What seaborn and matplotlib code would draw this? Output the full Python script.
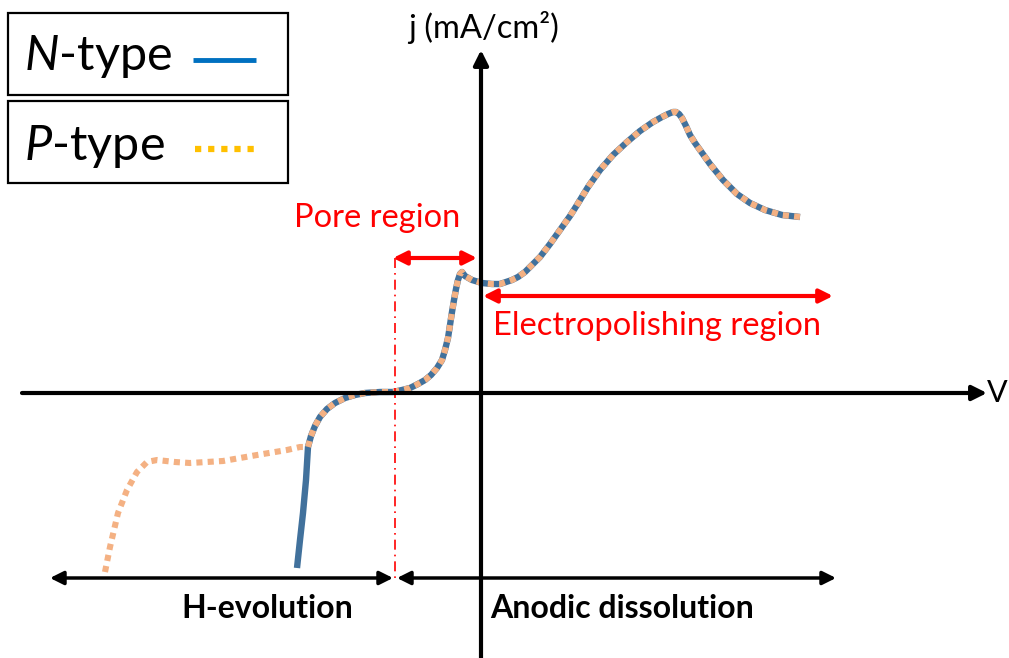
import matplotlib
matplotlib.use("Agg")
import matplotlib.pyplot as plt
from matplotlib.patches import Rectangle
import seaborn as sns
import pandas as pd

sns.set_theme(style="white")
plt.rcParams['font.family'] = ['Lato', 'DejaVu Sans']
plt.rcParams['mathtext.fontset'] = 'custom'
plt.rcParams['mathtext.it'] = 'Lato:italic'
plt.rcParams['mathtext.rm'] = 'Lato'

# ---- data (schematic units: V and j) ----
n_only_v = [-1.83, -1.80, -1.77, -1.74]
n_only_j = [-1.75, -1.47, -1.20, -0.87]

p_only_v = [-3.75, -3.70, -3.62, -3.53, -3.43, -3.33, -3.23, -3.05, -2.90, -2.57, -2.23, -1.93, -1.80]
p_only_j = [-1.79, -1.54, -1.20, -0.97, -0.79, -0.69, -0.67, -0.69, -0.70, -0.68, -0.62, -0.57, -0.54]

shared_v = [-1.72, -1.69, -1.65, -1.60, -1.53, -1.45, -1.35, -1.25, -1.15, -1.00, -0.87, -0.78, -0.70,
            -0.62, -0.55, -0.49, -0.43, -0.38, -0.35, -0.32, -0.30, -0.28, -0.26, -0.24, -0.22,
            -0.20, -0.18, -0.15, -0.08, 0.02, 0.12, 0.20, 0.26, 0.32, 0.38, 0.45, 0.52, 0.60, 0.70,
            0.80, 0.90, 0.97, 1.08, 1.20, 1.33, 1.47, 1.60, 1.73, 1.82, 1.88, 1.93, 1.96, 1.99,
            2.02, 2.06, 2.10, 2.15, 2.20, 2.30, 2.43, 2.57, 2.70, 2.85, 3.02, 3.20]
shared_j = [-0.54, -0.43, -0.33, -0.24, -0.16, -0.10, -0.05, -0.02, 0.00, 0.01, 0.01, 0.03, 0.05,
            0.09, 0.13, 0.18, 0.25, 0.33, 0.43, 0.55, 0.68, 0.81, 0.93, 1.04, 1.13,
            1.19, 1.21, 1.17, 1.13, 1.10, 1.09, 1.09, 1.11, 1.13, 1.16, 1.21, 1.28, 1.36, 1.49,
            1.63, 1.77, 1.88, 2.06, 2.23, 2.38, 2.51, 2.62, 2.71, 2.76, 2.79, 2.81, 2.81, 2.79,
            2.75, 2.67, 2.58, 2.50, 2.43, 2.29, 2.13, 1.99, 1.90, 1.83, 1.78, 1.76]

series_labels = ["N-type", "P-type"]
region_labels = ["Pore region", "Electropolishing region", "H-evolution", "Anodic dissolution"]
axis_labels = ["j (mA/cm²)", "V"]

N_COLOR = "#41719C"
P_COLOR = "#F4B183"
N_LEG = "#0070C0"
P_LEG = "#FFC000"

W, H = 1009, 658
fig = plt.figure(figsize=(W / 100, H / 100), dpi=100)
ax = fig.add_axes([0, 0, 1, 1])
ax.set_xlim(-4.80, (W - 480) / 100)
ax.set_ylim((393 - H) / 100, 393 / 100)
ax.axis("off")


def P(px, py):
    return ((px - 480) / 100, (393 - py) / 100)


# axes arrows
ax.annotate("", xy=P(987, 393), xytext=P(22, 393),
            arrowprops=dict(arrowstyle="-|>", lw=3, color="black", mutation_scale=22,
                            shrinkA=0, shrinkB=0))
ax.annotate("", xy=P(481, 50), xytext=P(481, 660),
            arrowprops=dict(arrowstyle="-|>", lw=3, color="black", mutation_scale=22,
                            shrinkA=0, shrinkB=0))
ax.text(*P(1008, 393), axis_labels[1], fontsize=22, ha="right", va="center", color="black")
ax.text(*P(484, 28), axis_labels[0], fontsize=23.5, ha="center", va="center", color="black")

# curves
n_df = pd.DataFrame({"V": n_only_v + shared_v, "j": n_only_j + shared_j})
p_df = pd.DataFrame({"V": p_only_v + shared_v, "j": p_only_j + shared_j})
sns.lineplot(data=n_df, x="V", y="j", sort=False, estimator=None, ax=ax, color=N_COLOR,
             lw=4.6, solid_capstyle="butt", solid_joinstyle="round")
lp = sns.lineplot(data=p_df, x="V", y="j", sort=False, estimator=None, ax=ax, color=P_COLOR,
                  lw=4.4, dashes=False)
lp.lines[-1].set_linestyle((0, (1.0, 0.85)))
lp.lines[-1].set_dash_capstyle("butt")

# red dash-dot separator
xs, ys0 = P(395, 258)
_, ys1 = P(395, 582)
ax.plot([xs, xs], [ys0, ys1], color="red", lw=1.2, linestyle=(0, (6, 3, 1, 3)))

# red arrows
ax.annotate("", xy=P(477, 258), xytext=P(393, 258),
            arrowprops=dict(arrowstyle="<|-|>", lw=3, color="red", mutation_scale=20,
                            shrinkA=0, shrinkB=0))
ax.annotate("", xy=P(833, 296), xytext=P(483, 296),
            arrowprops=dict(arrowstyle="<|-|>", lw=3, color="red", mutation_scale=20,
                            shrinkA=0, shrinkB=0))
ax.text(*P(377, 218), region_labels[0], fontsize=23.5, color="red", ha="center", va="center")
ax.text(*P(657, 326), region_labels[1], fontsize=23.5, color="red", ha="center", va="center")

# black bottom arrows
ax.annotate("", xy=P(393, 578), xytext=P(50, 578),
            arrowprops=dict(arrowstyle="<|-|>", lw=2.5, color="black", mutation_scale=20,
                            shrinkA=0, shrinkB=0))
ax.annotate("", xy=P(836, 578), xytext=P(397, 578),
            arrowprops=dict(arrowstyle="<|-|>", lw=2.5, color="black", mutation_scale=20,
                            shrinkA=0, shrinkB=0))
ax.text(*P(267, 608), region_labels[2], fontsize=23, fontweight="bold", ha="center", va="center",
        color="black")
ax.text(*P(622, 608), region_labels[3], fontsize=23, fontweight="bold", ha="center", va="center",
        color="black")

# legend boxes
for (y0, y1) in [(13, 95), (101, 183)]:
    x0, yb = P(8, y1)
    x1, yt = P(288, y0)
    ax.add_patch(Rectangle((x0, yb), x1 - x0, yt - yb, fill=False, ec="black", lw=1.6))
ax.text(*P(24, 57), r"$\it{N}$-type", fontsize=35, ha="left", va="center", color="black")
ax.text(*P(24, 146), r"$\it{P}$-type", fontsize=35, ha="left", va="center", color="black")
lx0, ly = P(193, 60)
lx1, _ = P(256, 60)
ax.plot([lx0, lx1], [ly, ly], color=N_LEG, lw=3.5, solid_capstyle="butt")
lx0, ly = P(195, 149)
lx1, _ = P(258, 149)
ax.plot([lx0, lx1], [ly, ly], color=P_LEG, lw=4.5, linestyle=(0, (1, 1.1)), dash_capstyle="butt")

fig.savefig("out.png", dpi=100)
